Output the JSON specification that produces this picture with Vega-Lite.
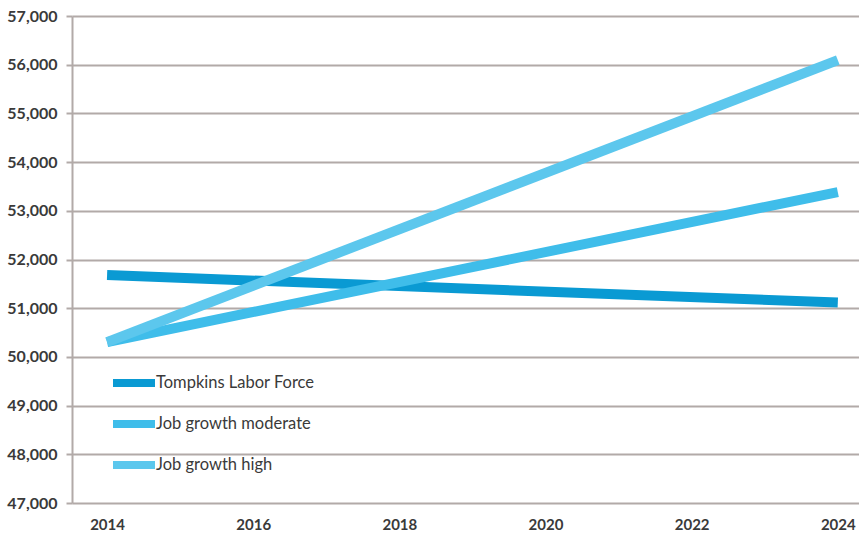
{
  "$schema": "https://vega.github.io/schema/vega-lite/v6.json",
  "width": 787,
  "height": 487,
  "autosize": "none",
  "padding": {"left": 72, "top": 16, "right": 0, "bottom": 31},
  "background": "white",
  "config": {"view": {"stroke": null}},
  "data": {
    "values": [
      {"year": 2014, "value": 51680, "series": "Tompkins Labor Force"},
      {"year": 2024, "value": 51115, "series": "Tompkins Labor Force"},
      {"year": 2014, "value": 50305, "series": "Job growth moderate"},
      {"year": 2024, "value": 53385, "series": "Job growth moderate"},
      {"year": 2014, "value": 50305, "series": "Job growth high"},
      {"year": 2024, "value": 56095, "series": "Job growth high"}
    ]
  },
  "mark": {"type": "line", "strokeWidth": 10, "strokeCap": "butt", "clip": false},
  "encoding": {
    "x": {
      "field": "year", "type": "quantitative",
      "scale": {"domain": [2013.52, 2024.29], "nice": false, "zero": false},
      "axis": {
        "title": null, "values": [2014, 2016, 2018, 2020, 2022, 2024], "format": "d",
        "grid": false, "ticks": false, "domain": false,
        "labelFont": "Lato", "labelFontSize": 15, "labelFontWeight": "bold", "labelColor": "#3a3a3a",
        "labelPadding": 14, "labelDx": -6
      }
    },
    "y": {
      "field": "value", "type": "quantitative",
      "scale": {"domain": [47000, 57000], "nice": false, "zero": false},
      "axis": {
        "title": null, "values": [47000, 48000, 49000, 50000, 51000, 52000, 53000, 54000, 55000, 56000, 57000],
        "format": ",d", "grid": true, "gridColor": "#b2aaa8", "gridWidth": 2,
        "domainColor": "#b2aaa8", "domainWidth": 2, "tickColor": "#b2aaa8", "tickWidth": 2, "tickSize": 6,
        "labelFont": "Lato", "labelFontSize": 16, "labelFontWeight": "bold", "labelColor": "#3a3a3a",
        "labelPadding": 9
      }
    },
    "color": {
      "field": "series", "type": "nominal",
      "scale": {
        "domain": ["Tompkins Labor Force", "Job growth moderate", "Job growth high"],
        "range": ["#0a9ad3", "#3fbdea", "#5cc7ed"]
      },
      "legend": {
        "title": null, "orient": "none", "legendX": 37, "legendY": 342,
        "symbolType": "stroke", "symbolSize": 1764, "symbolStrokeWidth": 8,
        "rowPadding": 0, "labelOffset": -3,
        "labelFont": "Lato", "labelFontSize": 16.5, "labelColor": "#3a3a3a"
      }
    }
  }
}
